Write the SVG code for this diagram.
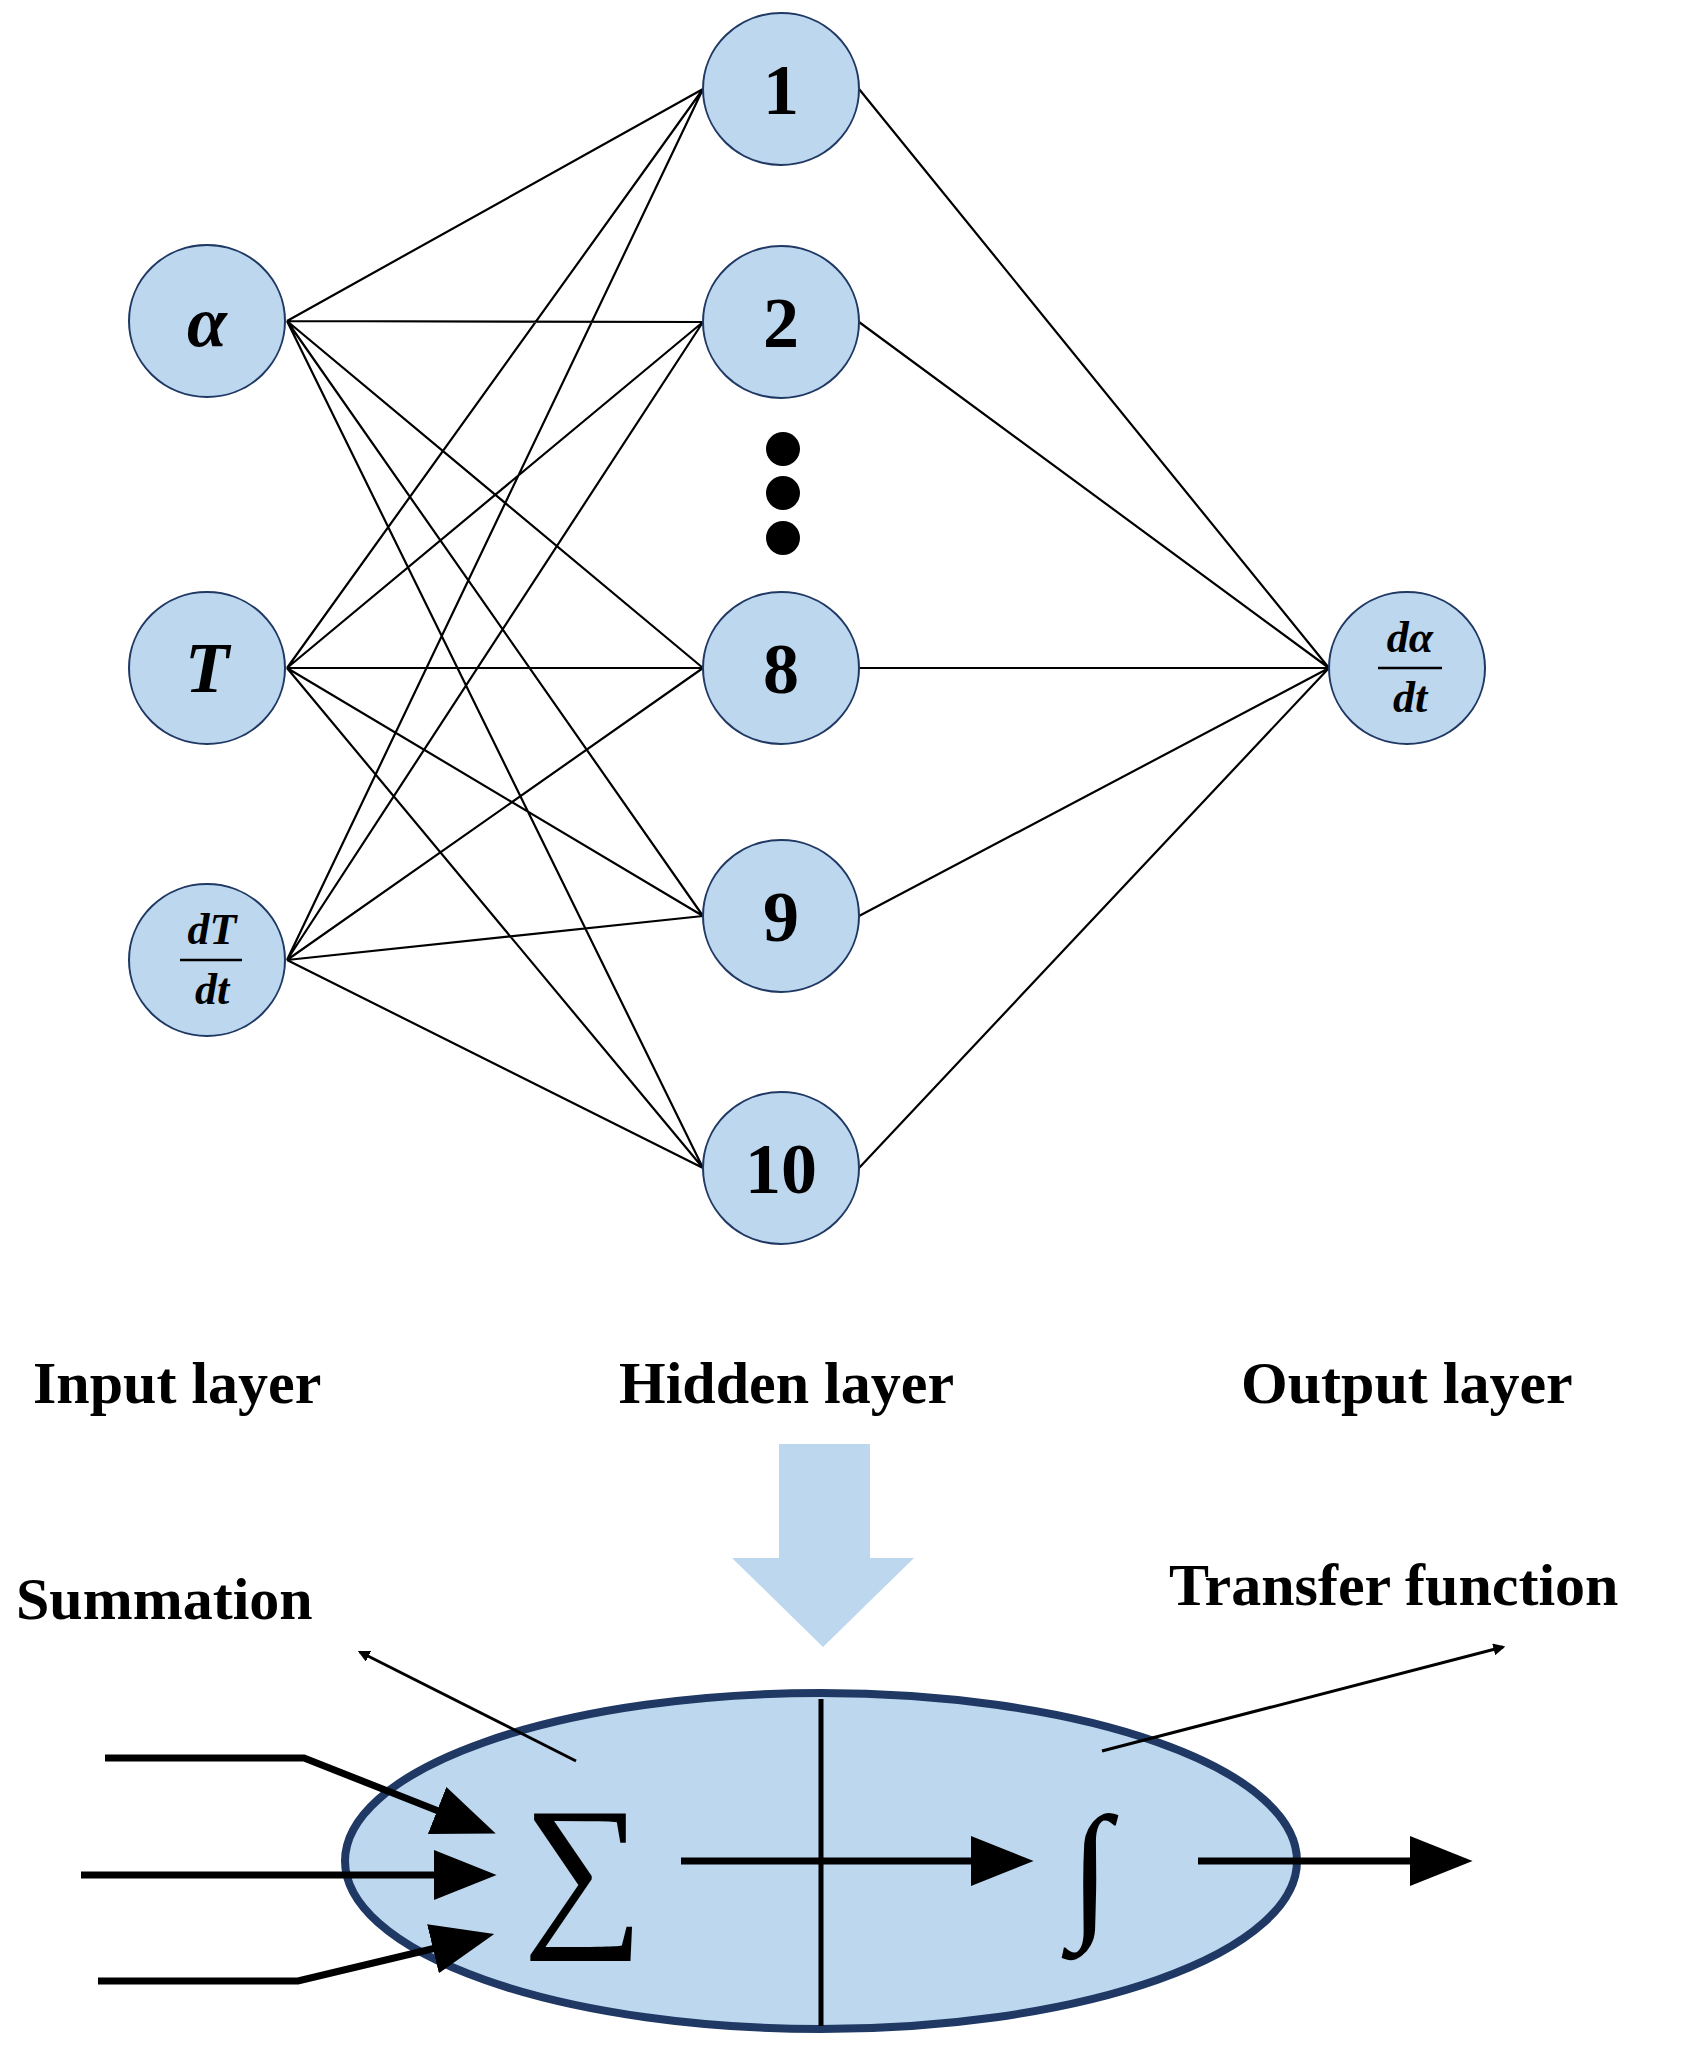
<svg xmlns="http://www.w3.org/2000/svg" width="1702" height="2051" viewBox="0 0 1702 2051">
<style>
.n{fill:#bdd7ee;stroke:#1f3864;stroke-width:2}
.t{font-family:"Liberation Serif",serif;font-weight:bold;fill:#000;text-anchor:middle}
.e{stroke:#000;stroke-width:2.2;fill:none}
.lbl{font-family:"Liberation Serif",serif;font-weight:bold;font-size:60px}
.th{stroke:#000;stroke-width:7;fill:none}
</style>
<defs>
<marker id="a" viewBox="0 0 10 10" refX="8" refY="5" markerWidth="4" markerHeight="4" orient="auto"><path d="M0,0L10,5L0,10z" fill="#000"/></marker>
<marker id="s" viewBox="0 0 10 10" refX="8" refY="5" markerWidth="9" markerHeight="9" orient="auto"><path d="M0,1L10,5L0,9z" fill="#000"/></marker>
</defs>
<rect width="1702" height="2051" fill="#fff"/>
<g id="connectors">
<path class="e" d="M287,321L703,89M287,321L703,322M287,321L703,668M287,321L703,916M287,321L703,1168
M287,668L703,89M287,668L703,322M287,668L703,668M287,668L703,916M287,668L703,1168
M287,960L703,89M287,960L703,322M287,960L703,668M287,960L703,916M287,960L703,1168
M859,89L1329,668M859,322L1329,668M859,668L1329,668M859,916L1329,668M859,1168L1329,668"/>
</g>
<g id="in-alpha"><ellipse class="n" cx="207" cy="321" rx="78" ry="76"/><text class="t" x="207" y="346" font-size="72" font-style="italic">α</text></g>
<g id="in-T"><ellipse class="n" cx="207" cy="668" rx="78" ry="76"/><text class="t" x="207" y="692" font-size="72" font-style="italic">T</text></g>
<g id="in-dTdt"><ellipse class="n" cx="207" cy="960" rx="78" ry="76"/><text class="t" x="212" y="944" font-size="44" font-style="italic">dT</text><line x1="180" y1="960" x2="242" y2="960" stroke="#000" stroke-width="2.5"/><text class="t" x="212" y="1004" font-size="44" font-style="italic">dt</text></g>
<g id="h1"><ellipse class="n" cx="781" cy="89" rx="78" ry="76"/><text class="t" x="781" y="114" font-size="72">1</text></g>
<g id="h2"><ellipse class="n" cx="781" cy="322" rx="78" ry="76"/><text class="t" x="781" y="347" font-size="72">2</text></g>
<g id="dots"><circle cx="783" cy="449" r="17"/><circle cx="783" cy="493" r="17"/><circle cx="783" cy="538" r="17"/></g>
<g id="h8"><ellipse class="n" cx="781" cy="668" rx="78" ry="76"/><text class="t" x="781" y="693" font-size="72">8</text></g>
<g id="h9"><ellipse class="n" cx="781" cy="916" rx="78" ry="76"/><text class="t" x="781" y="941" font-size="72">9</text></g>
<g id="h10"><ellipse class="n" cx="781" cy="1168" rx="78" ry="76"/><text class="t" x="781" y="1193" font-size="72">10</text></g>
<g id="out"><ellipse class="n" cx="1407" cy="668" rx="78" ry="76"/><text class="t" x="1410" y="652" font-size="44" font-style="italic">dα</text><line x1="1378" y1="668" x2="1442" y2="668" stroke="#000" stroke-width="2.5"/><text class="t" x="1410" y="712" font-size="44" font-style="italic">dt</text></g>
<g id="labels">
<text class="lbl" x="33" y="1403">Input layer</text>
<text class="lbl" x="619" y="1403">Hidden layer</text>
<text class="lbl" x="1241" y="1403">Output layer</text>
<text class="lbl" x="16" y="1619">Summation</text>
<text class="lbl" x="1169" y="1605">Transfer function</text>
</g>
<g id="bigarrow"><path d="M779,1444H870V1558H914L823,1647L732,1558H779z" fill="#bdd7ee"/></g>
<g id="neuron">
<ellipse cx="821" cy="1861" rx="476" ry="168" fill="#bdd7ee" stroke="#1f3864" stroke-width="8"/>
<line x1="821" y1="1699" x2="821" y2="2026" stroke="#000" stroke-width="5"/>
<text x="583" y="1925" font-family="Liberation Serif,serif" font-size="170" text-anchor="middle">∑</text>
<text x="1090" y="1920" font-family="Liberation Serif,serif" font-size="150" text-anchor="middle">∫</text>
</g>
<g id="arrows">
<path class="th" marker-end="url(#s)" d="M105,1758H304L484,1829"/>
<path class="th" marker-end="url(#s)" d="M81,1875H484"/>
<path class="th" marker-end="url(#s)" d="M98,1981H298L482,1937"/>
<path class="th" marker-end="url(#s)" d="M681,1861H1021"/>
<path class="th" marker-end="url(#s)" d="M1198,1861H1460"/>
<path stroke="#000" stroke-width="3" fill="none" marker-end="url(#a)" d="M576,1761L360,1652"/>
<path stroke="#000" stroke-width="3" fill="none" marker-end="url(#a)" d="M1102,1751L1503,1647"/>
</g>
</svg>
